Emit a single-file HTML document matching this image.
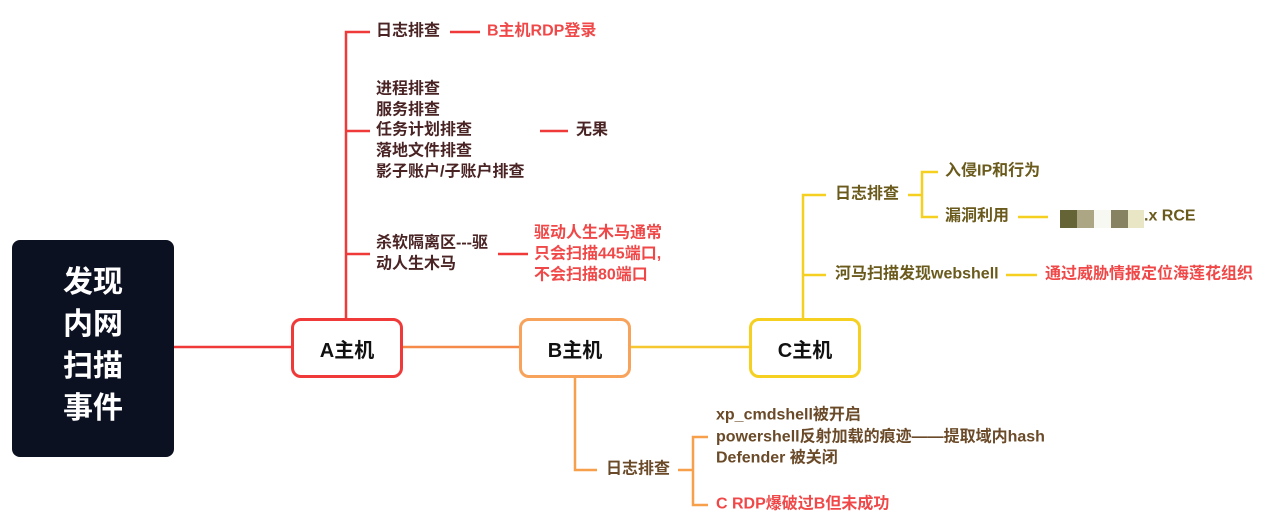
<!DOCTYPE html>
<html><head><meta charset="utf-8"><style>
body{margin:0;width:1269px;height:523px;background:#fff;position:relative;overflow:hidden;font-family:"Liberation Sans","Noto Sans CJK SC",sans-serif;}
.t{position:absolute;font-size:16px;line-height:20.7px;white-space:nowrap;font-weight:bold;transform:translateY(-50%);}
.r{color:#f04848}.a{color:#4a2424}.b{color:#6a4a28}.c{color:#6a5a1c}
.box{position:absolute;border-radius:10px;background:#fff;box-sizing:border-box;display:flex;align-items:center;justify-content:center;font-size:20px;font-weight:bold;color:#111;}
</style></head><body>
<svg width="1269" height="523" style="position:absolute;left:0;top:0">
<g fill="none" stroke-width="2.5">
<line x1="174" y1="347" x2="292" y2="347" stroke="#f03a3a"/>
<line x1="402" y1="347" x2="520" y2="347" stroke="#f58a4a"/>
<line x1="630" y1="347" x2="750" y2="347" stroke="#f5c830"/>
<path d="M370 32H346V319M346 131H370M346 254H370" stroke="#f03a3a"/>
<path d="M450 32H480M540 131H568M498 254H528" stroke="#f03a3a"/>
<path d="M575 377V470H597M678 470H693M708 437H693V505H708" stroke="#f7a04c"/>
<path d="M826 195H803V319M803 275H826M908 195H922M938 172H922V217H938M1018 217H1048M1006 275H1037" stroke="#f5d020"/>
</g>
<rect x="1060" y="210" width="17" height="18" fill="#646437"/>
<rect x="1077" y="210" width="17" height="18" fill="#aca684"/>
<rect x="1094" y="210" width="17" height="18" fill="#f8f8f2"/>
<rect x="1111" y="210" width="17" height="18" fill="#868262"/>
<rect x="1128" y="210" width="16" height="18" fill="#e9e6c6"/>
</svg>
<div style="position:absolute;left:12px;top:240px;width:162px;height:217px;background:#0b1120;border-radius:8px;color:#fff;font-size:30px;font-weight:bold;text-align:center;line-height:42px;padding-top:22px;box-sizing:border-box">发现<br>内网<br>扫描<br>事件</div>
<div class="box" style="left:291px;top:318px;width:112px;height:60px;border:3px solid #f03a3a">A主机</div>
<div class="box" style="left:519px;top:318px;width:112px;height:60px;border:3px solid #f7a35c">B主机</div>
<div class="box" style="left:749px;top:318px;width:112px;height:60px;border:3px solid #f5d020">C主机</div>
<div class="t a" style="left:376px;top:32px">日志排查</div>
<div class="t r" style="left:487px;top:32px">B主机RDP登录</div>
<div class="t a" style="left:376px;top:90px">进程排查</div>
<div class="t a" style="left:376px;top:111px">服务排查</div>
<div class="t a" style="left:376px;top:131px">任务计划排查</div>
<div class="t a" style="left:376px;top:152px">落地文件排查</div>
<div class="t a" style="left:376px;top:173px">影子账户/子账户排查</div>
<div class="t a" style="left:576px;top:131px">无果</div>
<div class="t a" style="left:376px;top:244px">杀软隔离区---驱</div>
<div class="t a" style="left:376px;top:265px">动人生木马</div>
<div class="t r" style="left:534px;top:234px">驱动人生木马通常</div>
<div class="t r" style="left:534px;top:255px">只会扫描445端口,</div>
<div class="t r" style="left:534px;top:276px">不会扫描80端口</div>
<div class="t c" style="left:835px;top:195px">日志排查</div>
<div class="t c" style="left:945px;top:172px">入侵IP和行为</div>
<div class="t c" style="left:945px;top:217px">漏洞利用</div>
<div class="t c" style="left:1144px;top:217px">.x RCE</div>
<div class="t c" style="left:835px;top:275px">河马扫描发现webshell</div>
<div class="t r" style="left:1045px;top:275px">通过威胁情报定位海莲花组织</div>
<div class="t b" style="left:606px;top:470px">日志排查</div>
<div class="t b" style="left:716px;top:416px">xp_cmdshell被开启</div>
<div class="t b" style="left:716px;top:438px">powershell反射加载的痕迹——提取域内hash</div>
<div class="t b" style="left:716px;top:459px">Defender 被关闭</div>
<div class="t r" style="left:716px;top:505px">C RDP爆破过B但未成功</div>
</body></html>
